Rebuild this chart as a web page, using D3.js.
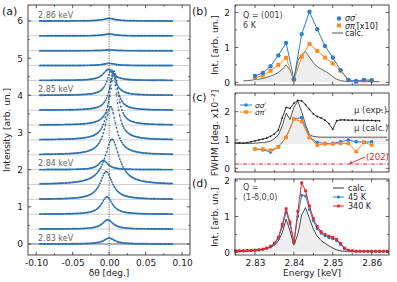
<!DOCTYPE html>
<html><head><meta charset="utf-8">
<script src="https://cdn.jsdelivr.net/npm/d3@7"></script>
<style>body{margin:0;background:#fff}svg{display:block;font-family:"DejaVu Sans",sans-serif}</style>
</head><body><svg id="c" width="397" height="282"></svg>
<script>
// ---------- Panel (a): rocking scans ----------
const scanEnergies = [2.830,2.832,2.834,2.836,2.838,2.840,2.842,2.844,2.846,2.848,2.850,2.852,2.854,2.856,2.858,2.860];
const scanOffsets  = [0,0.4,0.8,1.2,1.6,2.0,2.4,2.8,3.2,3.6,4.0,4.4,4.8,5.2,5.6,6.0];
const scanHeights  = [0.16,0.25,0.47,0.75,1.22,0.25,1.30,1.85,1.45,1.00,0.68,0.30,0.06,0.02,0.05,0.07];
const scanCenters  = [0.000,-0.002,-0.003,-0.004,0.004,-0.008,0.002,0.005,0.007,0.006,0.003,-0.001,0.000,0.000,0.000,0.000];
const scanFwhm     = [1.8,1.8,1.8,2.0,2.4,1.5,1.8,1.4,1.3,1.3,1.4,1.7,2.0,2.0,2.0,2.0]; // x1e-2 deg
const scanLabels   = [{i:0,t:"2.83 keV"},{i:5,t:"2.84 keV"},{i:10,t:"2.85 keV"},{i:15,t:"2.86 keV"}];
const aXTicks = [-0.10,-0.05,0.00,0.05,0.10];
const aYTicks = [0,1,2,3,4,5,6];

// ---------- Panel (b): integrated intensity ----------
const bEnergy = [2.830,2.832,2.834,2.836,2.838,2.840,2.842,2.844,2.846,2.848,2.850,2.852,2.854,2.856,2.858,2.860];
const bSigSig = [0.18,0.27,0.46,0.77,1.13,0.09,1.38,2.02,1.52,1.04,0.71,0.35,0.07,0.04,0.07,0.06];
const bSigPi  = [0.14,0.19,0.33,0.50,0.70,0.07,0.73,1.10,0.90,0.71,0.54,0.33,0.06,0.01,0.06,0.05];
const bCalcE  = [2.827,2.828,2.829,2.830,2.831,2.832,2.833,2.834,2.835,2.836,2.837,2.838,2.839,2.840,2.841,2.842,2.843,2.844,2.845,2.846,2.847,2.848,2.849,2.850,2.851,2.852,2.853,2.854,2.855,2.856,2.857,2.858,2.859,2.860,2.861,2.862];
const bCalc   = [0.04,0.05,0.06,0.08,0.09,0.11,0.14,0.18,0.22,0.28,0.37,0.50,0.35,0.07,0.62,0.80,0.88,0.72,0.56,0.45,0.38,0.32,0.25,0.16,0.09,0.05,0.03,0.03,0.02,0.02,0.02,0.02,0.02,0.02,0.02,0.02];

// ---------- Panel (c): FWHM ----------
const cSigSig = [0.68,0.65,0.58,0.76,1.09,1.74,1.79,1.09,0.91,0.88,0.88,0.94,1.00,0.94,0.92,0.94];
const cSigPi  = [0.68,0.68,0.64,0.75,1.09,1.74,1.65,1.09,0.82,0.86,0.86,0.88,0.88,0.59,0.92,0.82];
const muExpE  = [2.825,2.826,2.827,2.828,2.829,2.830,2.831,2.832,2.833,2.834,2.835,2.836,2.837,2.838,2.839,2.840,2.841,2.842,2.843,2.844,2.845,2.846,2.847,2.848,2.849,2.850,2.851,2.852,2.853,2.854,2.855,2.856,2.857,2.858,2.859,2.860,2.861,2.862];
const muExp   = [0.90,0.90,0.89,0.91,0.94,0.97,1.00,1.03,1.07,1.13,1.22,1.35,1.78,2.15,2.12,2.30,2.40,2.38,2.25,2.08,1.92,1.83,1.78,1.70,1.58,1.38,1.68,1.71,1.71,1.70,1.70,1.70,1.69,1.69,1.69,1.69,1.68,1.68];
const muCalcE = [2.825,2.826,2.827,2.828,2.829,2.830,2.831,2.832,2.833,2.834,2.835,2.836,2.837,2.838,2.839,2.840,2.841,2.842,2.843,2.844,2.845,2.846,2.847,2.848,2.849,2.850,2.851,2.852,2.853,2.854,2.855,2.856,2.857,2.858,2.859,2.860,2.861,2.862,2.863,2.864];
const muCalc  = [0.88,0.88,0.88,0.88,0.88,0.89,0.90,0.91,0.93,0.96,1.05,1.18,1.50,1.95,1.72,2.15,2.38,2.00,1.55,1.18,1.13,1.11,1.10,1.10,1.10,1.10,1.10,1.10,1.10,1.10,1.10,1.10,1.10,1.10,1.10,1.10,1.10,1.10,1.10,1.10];
const fwhm202 = 0.15;

// ---------- Panel (d): (1-δ,0,0) ----------
const dEnergy = [2.825,2.826,2.827,2.828,2.829,2.830,2.831,2.832,2.833,2.834,2.835,2.836,2.837,2.838,2.839,2.840,2.841,2.842,2.843,2.844,2.845,2.846,2.847,2.848,2.849,2.850,2.851,2.852,2.853,2.854,2.855,2.856,2.857,2.858,2.859,2.860,2.861,2.862,2.863,2.864];
const dCalc  = [0.02,0.02,0.03,0.03,0.04,0.05,0.06,0.08,0.10,0.14,0.20,0.32,0.55,0.93,0.60,0.20,0.50,1.05,1.25,0.95,0.65,0.45,0.33,0.25,0.18,0.12,0.07,0.04,0.03,0.02,0.02,0.02,0.02,0.02,0.02,0.02,0.02,0.02,0.02,0.02];
const d45K   = [0.04,0.04,0.04,0.05,0.05,0.06,0.07,0.08,0.11,0.15,0.23,0.38,0.72,1.12,0.80,0.27,1.00,1.60,1.58,1.20,0.88,0.66,0.53,0.46,0.41,0.38,0.32,0.22,0.10,0.05,0.04,0.03,0.03,0.03,0.03,0.03,0.03,0.03,0.03,0.03];
const d340K  = [0.04,0.04,0.04,0.05,0.05,0.06,0.07,0.09,0.12,0.17,0.26,0.42,0.78,1.22,0.85,0.28,1.15,1.95,1.72,1.30,0.95,0.72,0.58,0.50,0.45,0.42,0.36,0.25,0.12,0.06,0.04,0.03,0.03,0.03,0.03,0.03,0.03,0.03,0.03,0.03];
const eTicks = [2.83,2.84,2.85,2.86];

const BLUE="#2f7fc6", ORANGE="#ff8a1c", RED="#e3262b", FR="#333";
const svg = d3.select("#c");

function frame(g, x, y, xMajor, xMinor, yMajor, yMinor, showXLabels, xFmt, yFmt){
  const [x0,x1]=x.range(), [y0,y1]=y.range();
  const L=3.2, l=1.8;
  const tk = g.append("g").attr("stroke",FR).attr("stroke-width",0.8);
  xMajor.forEach(v=>{tk.append("line").attr("x1",x(v)).attr("x2",x(v)).attr("y1",y0).attr("y2",y0-L);
                     tk.append("line").attr("x1",x(v)).attr("x2",x(v)).attr("y1",y1).attr("y2",y1+L);});
  xMinor.forEach(v=>{tk.append("line").attr("x1",x(v)).attr("x2",x(v)).attr("y1",y0).attr("y2",y0-l);
                     tk.append("line").attr("x1",x(v)).attr("x2",x(v)).attr("y1",y1).attr("y2",y1+l);});
  yMajor.forEach(v=>{tk.append("line").attr("x1",x0).attr("x2",x0+L).attr("y1",y(v)).attr("y2",y(v));
                     tk.append("line").attr("x1",x1).attr("x2",x1-L).attr("y1",y(v)).attr("y2",y(v));});
  yMinor.forEach(v=>{tk.append("line").attr("x1",x0).attr("x2",x0+l).attr("y1",y(v)).attr("y2",y(v));
                     tk.append("line").attr("x1",x1).attr("x2",x1-l).attr("y1",y(v)).attr("y2",y(v));});
  g.append("rect").attr("x",x0).attr("y",y1).attr("width",x1-x0).attr("height",y0-y1)
   .attr("fill","none").attr("stroke",FR).attr("stroke-width",0.9);
  const ya = g.append("g").attr("transform",`translate(${x0},0)`)
    .call(d3.axisLeft(y).tickValues(yMajor).tickSize(0).tickPadding(5).tickFormat(yFmt));
  ya.select(".domain").remove();
  ya.selectAll("text").attr("font-size",9).attr("fill","#222").attr("font-family","DejaVu Sans");
  if(showXLabels){
    const xa = g.append("g").attr("transform",`translate(0,${y0})`)
      .call(d3.axisBottom(x).tickValues(xMajor).tickSize(0).tickPadding(5).tickFormat(xFmt));
    xa.select(".domain").remove();
    xa.selectAll("text").attr("font-size",9).attr("fill","#222").attr("font-family","DejaVu Sans");
  }
}
function txt(g,x,y,s,opt={}){
  const t=g.append("text").attr("x",x).attr("y",y).attr("font-size",opt.fs||9).attr("fill",opt.fill||"#222")
    .attr("text-anchor",opt.anchor||"start").text(s);
  if(opt.rot) t.attr("transform",`rotate(-90,${x},${y})`);
  if(opt.italic) t.attr("font-style","italic");
  return t;
}
const fmt2 = d => d.toFixed(2);

// ===== (a) =====
{
  const g=svg.append("g");
  const x=d3.scaleLinear().domain([-0.1112,0.1108]).range([28,190]);
  const y=d3.scaleLinear().domain([-0.296,6.43]).range([255,5]);
  scanOffsets.forEach((o,i)=>{
    g.append("line").attr("x1",28).attr("x2",190).attr("y1",y(o)).attr("y2",y(o))
     .attr("stroke",i===0?"#555":"#cfcfcf").attr("stroke-width",i===0?0.9:1);
  });
  g.append("line").attr("x1",x(0)).attr("x2",x(0)).attr("y1",5).attr("y2",255)
   .attr("stroke","#555").attr("stroke-width",0.9).attr("stroke-dasharray","1.2,1.2");
  const xs=d3.range(-0.095,0.0876,0.0015);
  const line=d3.line().x(d=>x(d[0])).y(d=>y(d[1]));
  scanOffsets.forEach((o,i)=>{
    const hw=scanFwhm[i]*0.01/2;
    const pts=xs.map(v=>[v,o+scanHeights[i]/(1+Math.pow((v-scanCenters[i])/hw,2))]);
    g.append("g").selectAll("circle").data(pts).join("circle")
     .attr("cx",d=>x(d[0])).attr("cy",d=>y(d[1])).attr("r",0.95).attr("fill",BLUE);
    g.append("path").attr("d",line(pts)).attr("fill","none").attr("stroke","#444")
     .attr("stroke-width",0.6).attr("stroke-dasharray","2,1.6");
  });
  scanLabels.forEach(s=>txt(g,38,y(scanOffsets[s.i])-3.3,s.t,{fs:8,fill:"#666"}));
  frame(g,x,y,aXTicks,[-0.075,-0.025,0.025,0.075],aYTicks,[0.5,1.5,2.5,3.5,4.5,5.5],true,fmt2,d3.format("d"));
  txt(g,109,276,"δθ [deg.]",{anchor:"middle"});
  txt(g,10,130,"Intensity [arb. un.]",{anchor:"middle",rot:true});
  txt(g,2,15,"(a)",{fs:11});
}

const xE=d3.scaleLinear().domain([2.82486,2.86445]).range([235,389]);
const eMinor=[2.825,2.835,2.845,2.855];

// ===== (b) =====
{
  const g=svg.append("g");
  const y=d3.scaleLinear().domain([-0.077,2.214]).range([85,5]);
  const area=d3.area().x((d,i)=>xE(bCalcE[i])).y0(y(0)).y1(d=>y(d));
  g.append("path").attr("d",area(bCalc)).attr("fill","#eeeeee");
  g.append("path").attr("d",d3.line().x((d,i)=>xE(bCalcE[i])).y(d=>y(d))(bCalc))
   .attr("fill","none").attr("stroke","#555").attr("stroke-width",0.9);
  const ln=d3.line().x((d,i)=>xE(bEnergy[i])).y(d=>y(d));
  g.append("path").attr("d",ln(bSigPi)).attr("fill","none").attr("stroke",ORANGE).attr("stroke-width",1);
  g.append("path").attr("d",ln(bSigSig)).attr("fill","none").attr("stroke",BLUE).attr("stroke-width",1);
  g.selectAll(".sp").data(bSigPi).join("rect").attr("x",(d,i)=>xE(bEnergy[i])-2).attr("y",d=>y(d)-2)
   .attr("width",4).attr("height",4).attr("fill",ORANGE);
  g.selectAll(".ss").data(bSigSig).join("circle").attr("cx",(d,i)=>xE(bEnergy[i])).attr("cy",d=>y(d))
   .attr("r",2.2).attr("fill",BLUE);
  frame(g,xE,y,eTicks,eMinor,[0,1,2],[0.5,1.5],false,null,d3.format("d"));
  txt(g,218,45,"Int. [arb. un.]",{anchor:"middle",rot:true});
  txt(g,192,15,"(b)",{fs:11});
  txt(g,243,18,"Q = (001)",{fs:8,fill:"#444"});
  txt(g,243,27.5,"6 K",{fs:8,fill:"#444"});
  g.append("circle").attr("cx",339).attr("cy",18.5).attr("r",2.2).attr("fill",BLUE);
  txt(g,345,21,"σσ′",{fs:8,italic:true});
  g.append("rect").attr("x",337).attr("y",23.5).attr("width",4).attr("height",4).attr("fill",ORANGE);
  const t2=g.append("text").attr("x",345).attr("y",28.5).attr("font-size",8).attr("fill","#222");
  t2.append("tspan").attr("font-style","italic").text("σπ′");
  t2.append("tspan").text("[x10]");
  g.append("line").attr("x1",332).attr("x2",343).attr("y1",33).attr("y2",33).attr("stroke","#555").attr("stroke-width",1);
  txt(g,345,36,"calc.",{fs:8});
}

// ===== (c) =====
{
  const g=svg.append("g");
  const y=d3.scaleLinear().domain([-0.13,2.66]).range([172,93]);
  const area=d3.area().x((d,i)=>xE(muCalcE[i])).y0(y(0.86)).y1(d=>y(d));
  g.append("path").attr("d",area(muCalc)).attr("fill","#eeeeee");
  g.append("line").attr("x1",235).attr("x2",389).attr("y1",y(fwhm202)).attr("y2",y(fwhm202))
   .attr("stroke",RED).attr("stroke-width",1).attr("stroke-dasharray","4,1.5,1,1.5");
  g.append("path").attr("d",d3.line().x((d,i)=>xE(muCalcE[i])).y(d=>y(d))(muCalc))
   .attr("fill","none").attr("stroke","#444").attr("stroke-width",0.9);
  g.append("path").attr("d",d3.line().x((d,i)=>xE(muExpE[i])).y(d=>y(d))(muExp))
   .attr("fill","none").attr("stroke","#222").attr("stroke-width",0.9);
  g.selectAll(".me").data(muExp).join("circle").attr("cx",(d,i)=>xE(muExpE[i])).attr("cy",d=>y(d))
   .attr("r",0.9).attr("fill","#222");
  const ln=d3.line().x((d,i)=>xE(bEnergy[i])).y(d=>y(d));
  g.append("path").attr("d",ln(cSigSig)).attr("fill","none").attr("stroke",BLUE).attr("stroke-width",1);
  g.append("path").attr("d",ln(cSigPi)).attr("fill","none").attr("stroke",ORANGE).attr("stroke-width",1);
  g.selectAll(".cs").data(cSigSig).join("circle").attr("cx",(d,i)=>xE(bEnergy[i])).attr("cy",d=>y(d))
   .attr("r",1.8).attr("fill",BLUE);
  g.selectAll(".cp").data(cSigPi).join("rect").attr("x",(d,i)=>xE(bEnergy[i])-1.8).attr("y",d=>y(d)-1.8)
   .attr("width",3.6).attr("height",3.6).attr("fill",ORANGE);
  frame(g,xE,y,eTicks,eMinor,[0,1,2],[0.5,1.5],false,null,d3.format("d"));
  txt(g,218,133,"FWHM [deg. x10⁻²]",{anchor:"middle",rot:true});
  txt(g,192,101,"(c)",{fs:11});
  g.append("line").attr("x1",240).attr("x2",252).attr("y1",105).attr("y2",105).attr("stroke",BLUE).attr("stroke-width",1);
  g.append("circle").attr("cx",246).attr("cy",105).attr("r",1.8).attr("fill",BLUE);
  txt(g,255,107.5,"σσ′",{fs:7.5,italic:true});
  g.append("line").attr("x1",240).attr("x2",252).attr("y1",112).attr("y2",112).attr("stroke",ORANGE).attr("stroke-width",1);
  g.append("rect").attr("x",244.2).attr("y",110.2).attr("width",3.6).attr("height",3.6).attr("fill",ORANGE);
  txt(g,255,115,"σπ′",{fs:7.5,italic:true});
  txt(g,354,113,"μ (exp.)",{fs:8.5,fill:"#333"});
  g.append("line").attr("x1",379).attr("x2",383).attr("y1",110).attr("y2",110).attr("stroke","#333").attr("stroke-width",0.8);
  txt(g,354,131,"μ (calc.)",{fs:8.5,fill:"#333"});
  txt(g,366,160,"(202)",{fs:8.5,fill:RED});
  g.append("line").attr("x1",365).attr("x2",351).attr("y1",157).attr("y2",163).attr("stroke",RED).attr("stroke-width",0.9);
  g.append("path").attr("d","M349,164 l3.5,-0.3 l-1.3,-2.6 z").attr("fill",RED);
}

// ===== (d) =====
{
  const g=svg.append("g");
  const y=d3.scaleLinear().domain([-0.076,2.053]).range([255,179]);
  const xd=(d,i)=>xE(dEnergy[i]);
  g.append("path").attr("d",d3.area().x(xd).y0(y(0)).y1(d=>y(d))(dCalc)).attr("fill","#eeeeee");
  g.append("path").attr("d",d3.line().x(xd).y(d=>y(d))(dCalc)).attr("fill","none").attr("stroke","#333").attr("stroke-width",0.9);
  g.append("path").attr("d",d3.line().x(xd).y(d=>y(d))(d45K)).attr("fill","none").attr("stroke",BLUE).attr("stroke-width",1);
  g.selectAll(".b45").data(d45K).join("circle").attr("cx",xd).attr("cy",d=>y(d)).attr("r",1.5).attr("fill",BLUE);
  g.append("path").attr("d",d3.line().x(xd).y(d=>y(d))(d340K)).attr("fill","none").attr("stroke",RED).attr("stroke-width",1);
  g.selectAll(".r340").data(d340K).join("rect").attr("x",(d,i)=>xd(d,i)-1.4).attr("y",d=>y(d)-1.4)
   .attr("width",2.8).attr("height",2.8).attr("fill",RED);
  frame(g,xE,y,eTicks,eMinor,[0,1,2],[0.5,1.5],true,fmt2,d3.format("d"));
  txt(g,218,217,"Int. [arb. un.]",{anchor:"middle",rot:true});
  txt(g,312,276,"Energy [keV]",{anchor:"middle"});
  txt(g,192,187,"(d)",{fs:11});
  txt(g,243,190,"Q =",{fs:8,fill:"#444"});
  txt(g,243,200,"(1-δ,0,0)",{fs:8,fill:"#444"});
  g.append("line").attr("x1",333).attr("x2",344).attr("y1",188).attr("y2",188).attr("stroke","#333").attr("stroke-width",1);
  txt(g,348,191,"calc.",{fs:8});
  g.append("line").attr("x1",333).attr("x2",344).attr("y1",197).attr("y2",197).attr("stroke",BLUE).attr("stroke-width",1);
  g.append("circle").attr("cx",338.5).attr("cy",197).attr("r",1.6).attr("fill",BLUE);
  txt(g,348,200,"45 K",{fs:8});
  g.append("line").attr("x1",333).attr("x2",344).attr("y1",206).attr("y2",206).attr("stroke",RED).attr("stroke-width",1);
  g.append("rect").attr("x",337.1).attr("y",204.6).attr("width",2.8).attr("height",2.8).attr("fill",RED);
  txt(g,348,209,"340 K",{fs:8});
}
</script></body></html>
